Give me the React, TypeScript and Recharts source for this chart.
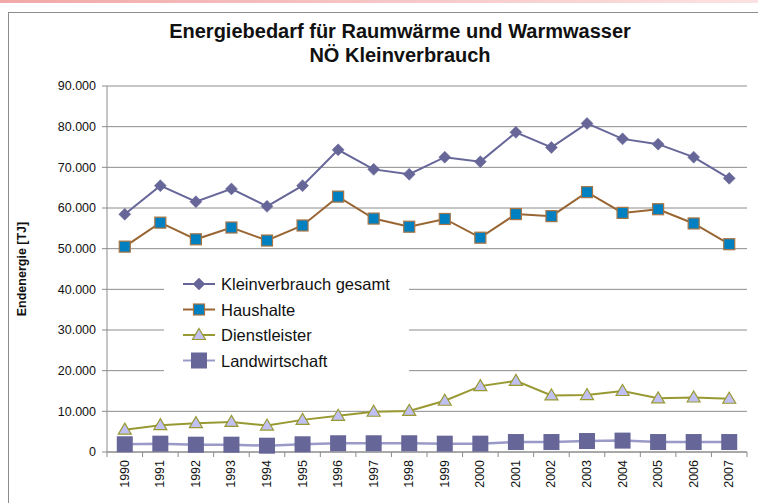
import React from "react";
import { LineChart, Line, XAxis, YAxis, CartesianGrid, Legend } from "recharts";

const years = [1990, 1991, 1992, 1993, 1994, 1995, 1996, 1997, 1998, 1999, 2000, 2001, 2002, 2003, 2004, 2005, 2006, 2007];
const kleinverbrauch = [58450, 65500, 61550, 64700, 60400, 65500, 74300, 69500, 68300, 72500, 71400, 78600, 74900, 80800, 77000, 75700, 72500, 67300];
const haushalte = [50500, 56400, 52300, 55200, 52000, 55700, 62800, 57400, 55400, 57300, 52700, 58500, 58000, 63900, 58800, 59700, 56200, 51100];
const dienstleister = [5500, 6600, 7100, 7400, 6500, 7900, 8900, 9900, 10100, 12600, 16200, 17500, 13900, 14000, 15000, 13200, 13400, 13100];
const landwirtschaft = [1900, 2050, 1800, 1800, 1550, 1900, 2150, 2150, 2150, 2050, 2050, 2450, 2450, 2700, 2800, 2450, 2450, 2450];
const yTicks = [0, 10000, 20000, 30000, 40000, 50000, 60000, 70000, 80000, 90000];

const seriesNames = ["Kleinverbrauch gesamt", "Haushalte", "Dienstleister", "Landwirtschaft"];

const data = years.map((y, i) => ({
  year: y,
  k: kleinverbrauch[i],
  h: haushalte[i],
  d: dienstleister[i],
  l: landwirtschaft[i],
}));

const xTicks: number[] = [];
years.forEach((y, i) => {
  xTicks.push(y - 0.5);
  xTicks.push(y);
  if (i === years.length - 1) xTicks.push(y + 0.5);
});

const FONT = '"Liberation Sans", Arial, Helvetica, sans-serif';
const AXIS = "#8c8c8c";

const C_K = "#666699";
const C_H_LINE = "#996633";
const C_H_FILL = "#0080c0";
const C_H_EDGE = "#a87444";
const C_D_LINE = "#999933";
const C_D_FILL = "#c0c0f2";
const C_L_LINE = "#9a9ac8";
const C_L_FILL = "#666699";

const Diamond = ({ cx, cy }: any) => (
  <path d={`M${cx},${cy - 6} L${cx + 6},${cy} L${cx},${cy + 6} L${cx - 6},${cy} Z`} fill={C_K} stroke={C_K} strokeWidth={0.5} />
);
const SquareH = ({ cx, cy }: any) => (
  <rect x={cx - 5.5} y={cy - 5.5} width={11} height={11} fill={C_H_FILL} stroke={C_H_EDGE} strokeWidth={1.2} />
);
const Tri = ({ cx, cy }: any) => (
  <path d={`M${cx},${cy - 6.5} L${cx + 6.5},${cy + 4.5} L${cx - 6.5},${cy + 4.5} Z`} fill={C_D_FILL} stroke={C_D_LINE} strokeWidth={1.2} />
);
const SquareL = ({ cx, cy }: any) => (
  <rect x={cx - 8} y={cy - 8} width={16} height={16} fill={C_L_FILL} />
);

const markers = [Diamond, SquareH, Tri, SquareL];
const lineColors = [C_K, C_H_LINE, C_D_LINE, C_L_LINE];

const fmt = (v: number) => (v === 0 ? "0" : `${Math.floor(v / 1000)}.${String(v % 1000).padStart(3, "0")}`);

const XTick = (props: any) => {
  const { x, y, payload } = props;
  const v = payload.value;
  if (!Number.isInteger(v)) {
    return <line x1={x} y1={y - 5} x2={x} y2={y} stroke={AXIS} strokeWidth={1} />;
  }
  return (
    <text
      x={x}
      y={y + 3}
      transform={`rotate(-90, ${x}, ${y + 3})`}
      textAnchor="end"
      dominantBaseline="central"
      fontSize={12.5}
      fontFamily={FONT}
      fill="#111"
    >
      {v}
    </text>
  );
};

const LegendContent = () => (
  <svg width={245} height={108}>
    {seriesNames.map((n, i) => {
      const cy = 16 + i * 25.5;
      const M = markers[i];
      return (
        <g key={n}>
          <line x1={19} y1={cy} x2={51} y2={cy} stroke={lineColors[i]} strokeWidth={2} />
          <M cx={35} cy={cy} />
          <text x={57} y={cy} dominantBaseline="central" fontSize={16.5} fontFamily={FONT} fill="#111">
            {n}
          </text>
        </g>
      );
    })}
  </svg>
);

export default function App() {
  return (
    <div style={{ position: "absolute", left: 0, top: 0, width: 758, height: 503, overflow: "hidden", background: "#fff" }}>
      <div style={{ position: "absolute", left: 0, top: 0, width: 758, height: 3, background: "linear-gradient(to right, #f2a8a8, #fbe2e2)" }} />
      <div style={{ position: "absolute", left: 8, top: 12, width: 770, height: 510, border: "1.5px solid #8c8c8c", boxSizing: "border-box" }} />
      <div style={{ position: "absolute", left: 0, top: 0 }}>
        <LineChart width={758} height={503} data={data} margin={{ top: 86, right: 11, bottom: 0, left: 0 }}>
          <CartesianGrid vertical={false} stroke={AXIS} strokeWidth={1} />
          <XAxis
            dataKey="year"
            type="number"
            domain={[1989.5, 2007.5]}
            ticks={xTicks}
            interval={0}
            height={51}
            tickSize={5}
            tickMargin={0}
            tickLine={false}
            axisLine={{ stroke: AXIS }}
            tick={<XTick />}
          />
          <YAxis
            domain={[0, 90000]}
            ticks={yTicks}
            interval={0}
            width={107}
            tickSize={5}
            tickMargin={6}
            tickLine={{ stroke: AXIS }}
            axisLine={{ stroke: AXIS }}
            tickFormatter={fmt}
            tick={{ fontSize: 12.5, fontFamily: FONT, fill: "#111" }}
            label={{
              value: "Endenergie [TJ]",
              angle: -90,
              position: "insideLeft",
              offset: 22,
              style: { textAnchor: "middle", fontSize: 12.5, fontWeight: "bold", fontFamily: FONT, fill: "#111" },
            }}
          />
          <Legend
            layout="vertical"
            align="center"
            verticalAlign="middle"
            content={<LegendContent />}
            wrapperStyle={{ position: "absolute", left: 164, top: 268, width: 245, height: 108, background: "#fff" }}
          />
          <Line dataKey="k" name={seriesNames[0]} stroke={C_K} strokeWidth={2} dot={<Diamond />} isAnimationActive={false} />
          <Line dataKey="h" name={seriesNames[1]} stroke={C_H_LINE} strokeWidth={2} dot={<SquareH />} isAnimationActive={false} />
          <Line dataKey="d" name={seriesNames[2]} stroke={C_D_LINE} strokeWidth={2} dot={<Tri />} isAnimationActive={false} />
          <Line dataKey="l" name={seriesNames[3]} stroke={C_L_LINE} strokeWidth={2.5} dot={<SquareL />} isAnimationActive={false} />
        </LineChart>
      </div>
      <div style={{ position: "absolute", left: 0, width: 800, top: 19, textAlign: "center", fontFamily: FONT, fontWeight: "bold", fontSize: 20, lineHeight: "24px", color: "#111" }}>
        Energiebedarf für Raumwärme und Warmwasser
        <br />
        NÖ Kleinverbrauch
      </div>
    </div>
  );
}
